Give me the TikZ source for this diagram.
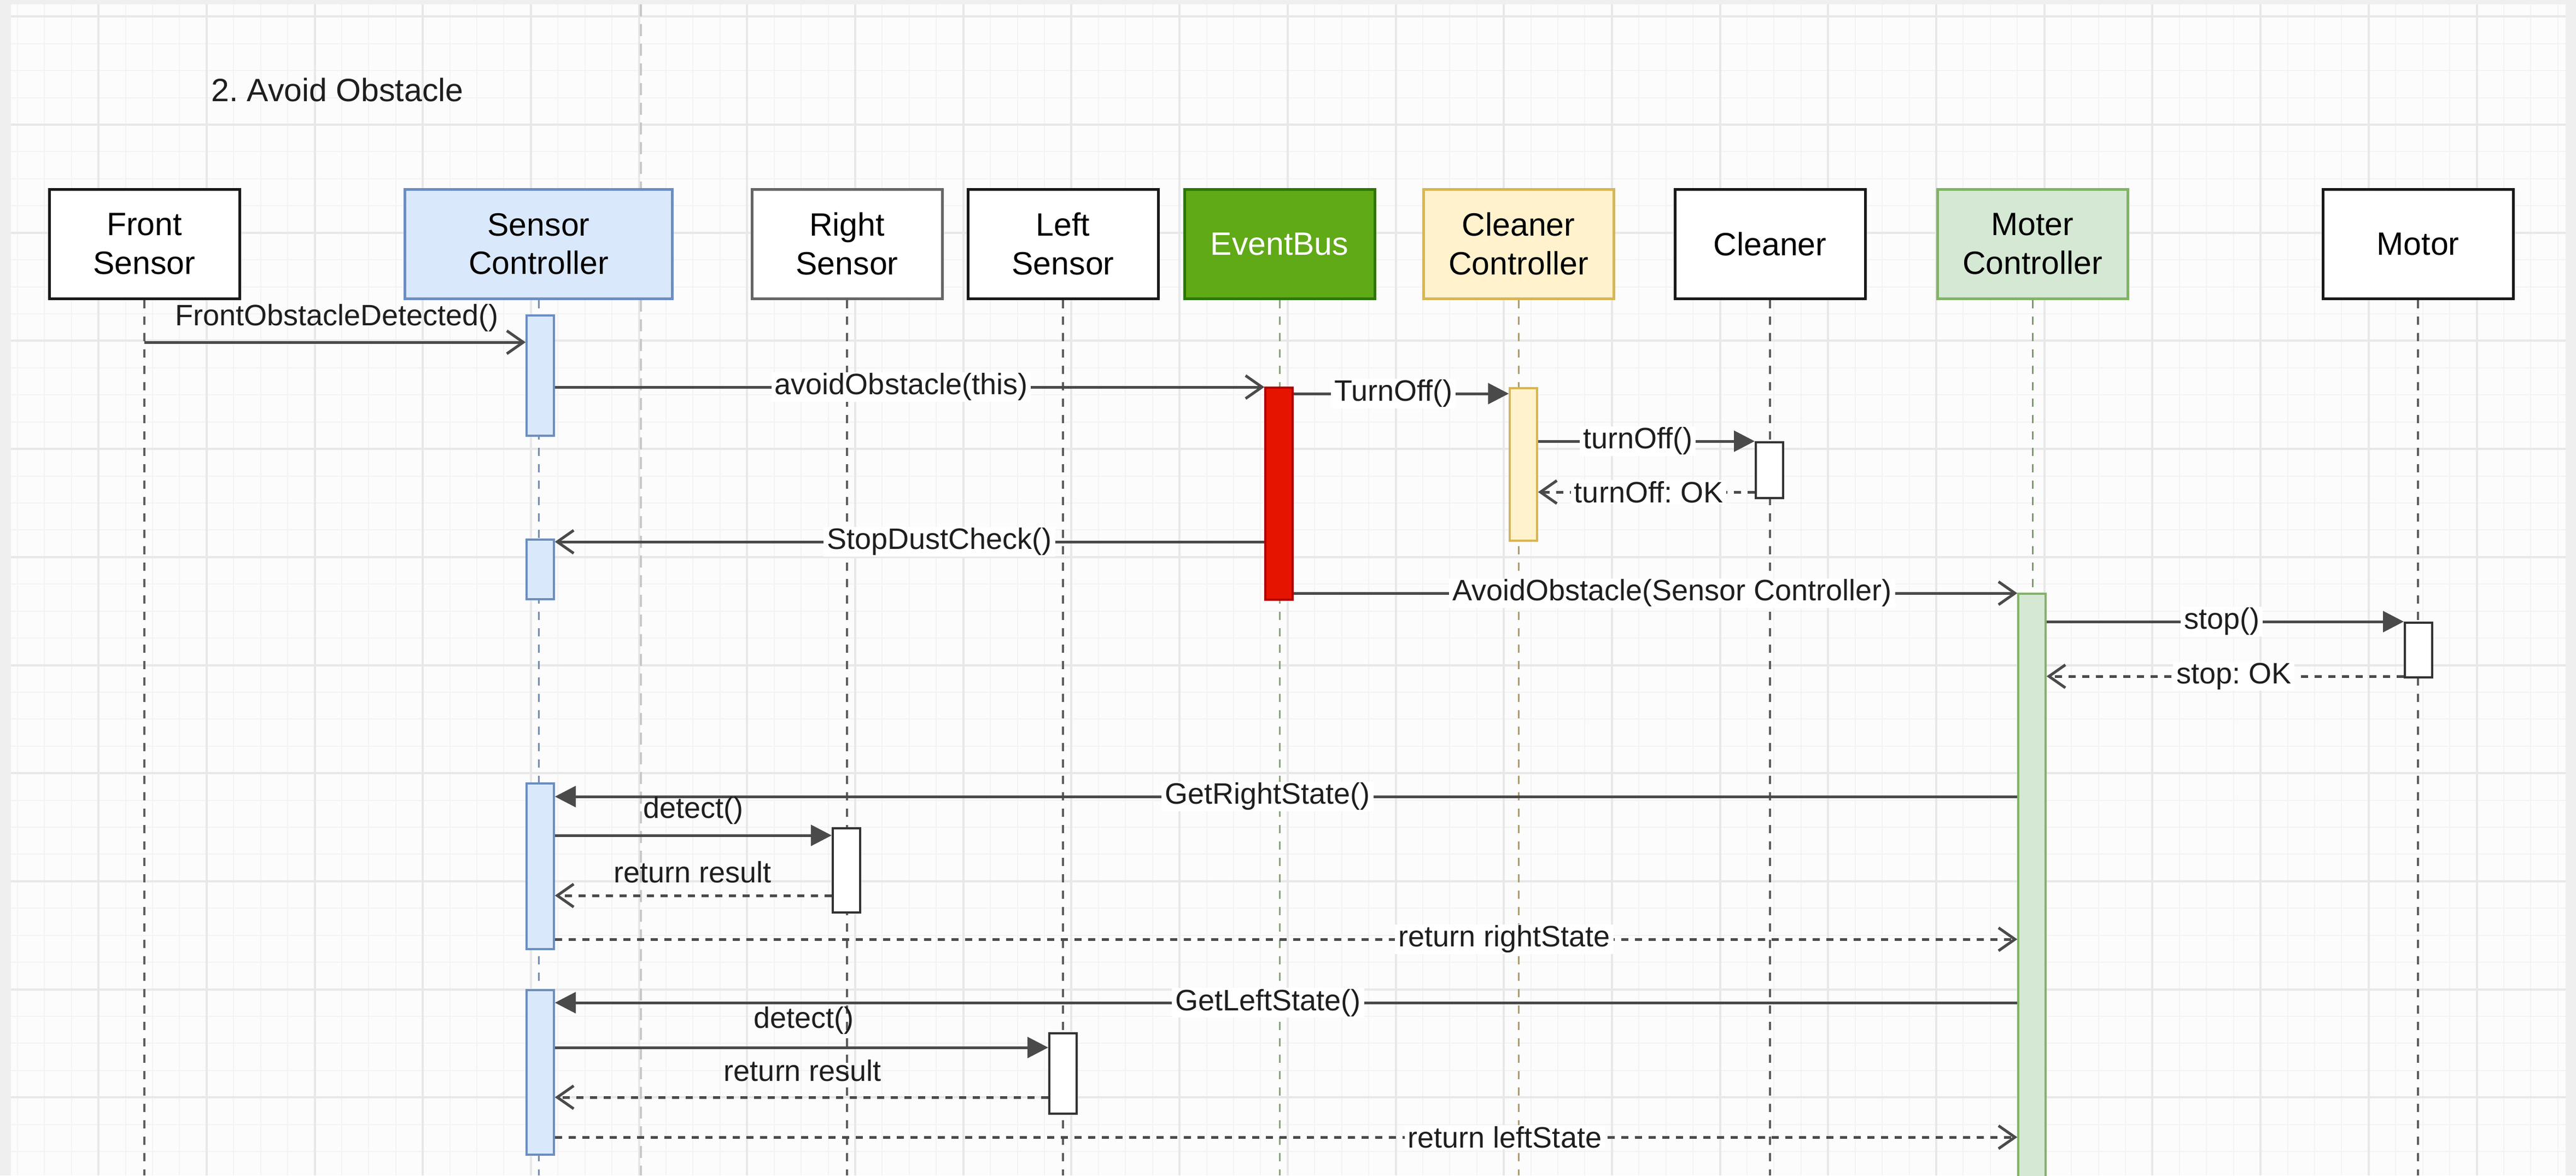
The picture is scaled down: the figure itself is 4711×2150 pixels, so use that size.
\documentclass[tikz,border=0pt]{standalone}
\usepackage{fontspec}
\setmainfont{Liberation Sans}
\usetikzlibrary{arrows.meta}
\frenchspacing
\definecolor{bgouter}{HTML}{EFEFEF}
\definecolor{bginner}{HTML}{FCFCFC}
\definecolor{gridmin}{HTML}{F3F3F3}
\definecolor{gridmaj}{HTML}{E8E8E8}
\definecolor{scfill}{HTML}{DAE8FC}
\definecolor{scline}{HTML}{6C8EBF}
\definecolor{ebfill}{HTML}{60A917}
\definecolor{ebline}{HTML}{2D7600}
\definecolor{ccfill}{HTML}{FFF2CC}
\definecolor{ccline}{HTML}{D6B656}
\definecolor{mcfill}{HTML}{D5E8D4}
\definecolor{mcline}{HTML}{82B366}
\definecolor{redfill}{HTML}{E51400}
\definecolor{redline}{HTML}{B20000}
\definecolor{msgcol}{HTML}{4A4A4A}
\definecolor{txtcol}{HTML}{1E1E1E}
\definecolor{lifedark}{HTML}{5E5E5E}
\definecolor{pgbrk}{HTML}{C8C8C8}
\tikzset{
  part/.style={draw, line width=5pt, minimum width=348pt, minimum height=200pt, align=center, inner sep=0pt, font=\fontsize{59}{70.5}\selectfont, text=black},
  actbox/.style={draw, line width=3.5pt, minimum width=50pt, inner sep=0pt, anchor=north},
  actwhite/.style={actbox, fill=white, draw=black!80, line width=4pt},
  life/.style={line width=4.5pt, dash pattern=on 15pt off 15pt},
  lifelight/.style={line width=3pt, dash pattern=on 15pt off 15pt},
  msg/.style={line width=5pt, draw=msgcol},
  ret/.style={msg, dash pattern=on 13pt off 12pt},
  opentip/.style={-{Straight Barb[length=30pt,width=42pt,line width=5pt]}},
  filltip/.style={-{Triangle[length=38pt,width=38pt]}},
  lbl/.style={font=\fontsize{54}{60}\selectfont, text=txtcol, inner sep=2pt},
  lblbg/.style={lbl, fill=white, inner xsep=6pt},
}
\begin{document}
\begin{tikzpicture}[x=1pt,y=-1pt]
\useasboundingbox (0,0) rectangle (4711,2150);
% background and grid
\fill[bgouter] (0,0) rectangle (4711,2150);
\fill[bginner] (20,8) rectangle (4692,2150);
\foreach \i in {0,...,94} {\draw[gridmin,line width=2pt] ({31.8+\i*49.425},8) -- ({31.8+\i*49.425},2150);}
\foreach \j in {0,...,42} {\draw[gridmin,line width=2pt] (20,{30.3+\j*49.425}) -- (4692,{30.3+\j*49.425});}
\foreach \i in {0,...,22} {\draw[gridmaj,line width=4pt] ({180.1+\i*197.7},8) -- ({180.1+\i*197.7},2150);}
\foreach \j in {0,...,10} {\draw[gridmaj,line width=4pt] (20,{30.3+\j*197.7}) -- (4692,{30.3+\j*197.7});}
\draw[pgbrk,line width=4pt,dash pattern=on 22pt off 14pt] (1172,8) -- (1172,2150);

% title
\node[font=\fontsize{59}{70}\selectfont, text=txtcol] (title) at (617,164) {2. Avoid Obstacle};

% participants
\node[part, fill=white, draw=black!90] (fs) at (264,446) {Front\\Sensor};
\node[part, fill=scfill, draw=scline, minimum width=489pt] (sc) at (985,446) {Sensor\\Controller};
\node[part, fill=white, draw=black!60] (rs) at (1549,446) {Right\\Sensor};
\node[part, fill=white, draw=black!90] (ls) at (1944,446) {Left\\Sensor};
\node[part, fill=ebfill, draw=ebline, text=white] (eb) at (2340,446) {EventBus};
\node[part, fill=ccfill, draw=ccline] (cc) at (2777,446) {Cleaner\\Controller};
\node[part, fill=white, draw=black!90] (cl) at (3237,446) {Cleaner};
\node[part, fill=mcfill, draw=mcline] (mc) at (3717,446) {Moter\\Controller};
\node[part, fill=white, draw=black!90] (mo) at (4422,446) {Motor};

% lifelines
\draw[life, lifedark] (fs.south) -- (fs.south |- 0,2150);
\draw[lifelight, scline!80!gray] (sc.south) -- (sc.south |- 0,2150);
\draw[life, lifedark] (rs.south) -- (rs.south |- 0,2150);
\draw[life, lifedark] (ls.south) -- (ls.south |- 0,2150);
\draw[lifelight, ebline!50!gray!70] (eb.south) -- (eb.south |- 0,2150);
\draw[lifelight, ccline!50!gray] (cc.south) -- (cc.south |- 0,2150);
\draw[life, lifedark] (cl.south) -- (cl.south |- 0,2150);
\draw[lifelight, mcline!50!gray] (mc.south) -- (mc.south |- 0,2150);
\draw[life, lifedark] (mo.south) -- (mo.south |- 0,2150);

% activations
\node[actbox, fill=scfill, draw=scline, minimum height=220pt] (sca1) at (988,575) {};
\node[actbox, fill=scfill, draw=scline, minimum height=109pt] (sca2) at (988,985) {};
\node[actbox, fill=scfill, draw=scline, minimum height=303pt] (sca3) at (988,1431) {};
\node[actbox, fill=scfill, draw=scline, minimum height=301pt] (sca4) at (988,1809) {};
\node[actbox, fill=redfill, draw=redline, minimum height=388pt] (eba) at (2339,707) {};
\node[actbox, fill=ccfill, draw=ccline, minimum height=279pt] (cca) at (2786,708) {};
\node[actwhite, minimum height=102pt] (cla) at (3236,807) {};
\node[actbox, fill=mcfill, draw=mcline, minimum height=1100pt] (mca) at (3716,1084) {};
\node[actwhite, minimum height=100pt] (moa) at (4423,1137) {};
\node[actwhite, minimum height=154pt] (rsa) at (1548,1513) {};
\node[actwhite, minimum height=147pt] (lsa) at (1944,1888) {};

% messages
\draw[msg,opentip] (fs.south |- 0,626) -- (sca1.west |- 0,626);
\draw[msg,opentip] (sca1.east |- 0,708) -- (eba.west |- 0,708);
\draw[msg,filltip] (eba.east |- 0,720) -- (cca.west |- 0,720);
\draw[msg,filltip] (cca.east |- 0,807) -- (cla.west |- 0,807);
\draw[ret,opentip] (cla.west |- 0,900) -- (cca.east |- 0,900);
\draw[msg,opentip] (eba.west |- 0,991) -- (sca2.east |- 0,991);
\draw[msg,opentip] (eba.east |- 0,1085) -- (mca.west |- 0,1085);
\draw[msg,filltip] (mca.east |- 0,1137) -- (moa.west |- 0,1137);
\draw[ret,opentip] (moa.west |- 0,1237) -- (mca.east |- 0,1237);
\draw[msg,filltip] (mca.west |- 0,1457) -- (sca3.east |- 0,1457);
\draw[msg,filltip] (sca3.east |- 0,1528) -- (rsa.west |- 0,1528);
\draw[ret,opentip] (rsa.west |- 0,1638) -- (sca3.east |- 0,1638);
\draw[ret,opentip] (sca3.east |- 0,1718) -- (mca.west |- 0,1718);
\draw[msg,filltip] (mca.west |- 0,1834) -- (sca4.east |- 0,1834);
\draw[msg,filltip] (sca4.east |- 0,1916) -- (lsa.west |- 0,1916);
\draw[ret,opentip] (lsa.west |- 0,2007) -- (sca4.east |- 0,2007);
\draw[ret,opentip] (sca4.east |- 0,2080) -- (mca.west |- 0,2080);

% labels
\node[lbl] (l1) at (616,582) {FrontObstacleDetected()};
\node[lblbg] (l2) at (1648,708) {avoidObstacle(this)};
\node[lblbg] (l3) at (2548,720) {TurnOff()};
\node[lblbg] (l4) at (2995,807) {turnOff()};
\node[lblbg] (l5) at (3015,900) {turnOff: OK};
\node[lblbg] (l6) at (1718,991) {StopDustCheck()};
\node[lblbg] (l7) at (3058,1085) {AvoidObstacle(Sensor Controller)};
\node[lblbg] (l8) at (4063,1137) {stop()};
\node[lblbg] (l9) at (4085,1237) {stop: OK};
\node[lblbg] (l10) at (2318,1457) {GetRightState()};
\node[lbl] (l11) at (1268,1483) {detect()};
\node[lbl] (l12) at (1267,1595) {return result};
\node[lblbg] (l13) at (2751,1718) {return rightState};
\node[lblbg] (l14) at (2319,1834) {GetLeftState()};
\node[lbl] (l15) at (1470,1866) {detect()};
\node[lbl] (l16) at (1468,1958) {return result};
\node[lblbg] (l17) at (2752,2080) {return leftState};
\end{tikzpicture}
\end{document}
